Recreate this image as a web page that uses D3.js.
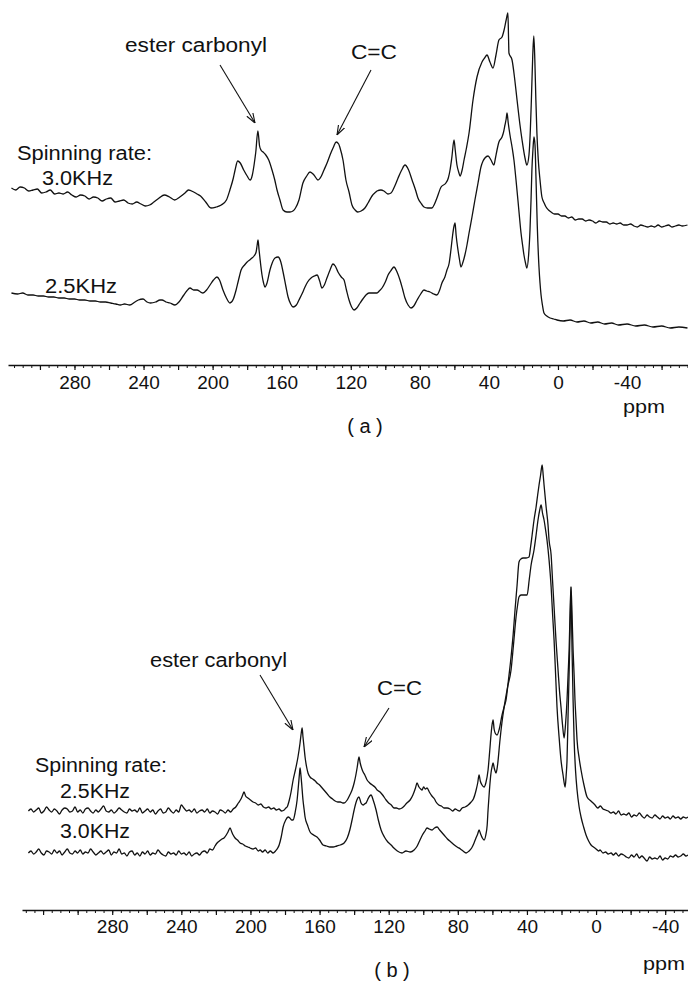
<!DOCTYPE html>
<html>
<head>
<meta charset="utf-8">
<script src="https://cdn.jsdelivr.net/npm/d3@7/dist/d3.min.js"></script>
<style>
  body { margin: 0; background: #fff; }
  svg text { font-family: "Liberation Sans", Arial, sans-serif; fill: #111; }
</style>
</head>
<body>
<div id="chart"></div>
<script>
// labels on the chemical shift axis (ppm)
const tickLabels = [280, 240, 200, 160, 120, 80, 40, 0, -40];

// (a) spinning rate 3.0KHz, [ppm, intensity]
const specA30 = [
  [316.5,42],[314,40],[311.5,43],[309,42],[306.5,39],[304,40],[301.5,41],[299,37],[296.5,38],[294,40],
  [291.5,36],[289,37],[286.5,36],[284,38],[281.5,35],[279,33],[276.5,35],[274,34],[271.5,31],[269,33],
  [266.5,32],[264,29],[261.5,31],[259,32],[256.5,28],[254,29],[251.5,30],[249,27],[246.5,26],[244,28],
  [241.5,26],[239,24],[236.5,25],[234,28],[231,32],[228,35],[225,33],[222,30],[219,33],[216,37],
  [214,40],[211,38],[209,36],[207,34],[204,28],[201,22],[198,23],[195,25],[192,30],[190,40],
  [188,52],[187,60],[185.5,69],[184,67],[182,60],[180,54],[178.3,50],[177,55],[176,65],[175,78],
  [173.8,99],[172.8,84],[172,80],[170.8,78],[169.2,75],[167.5,70],[165.6,60],[164,50],[162.7,40],[161,30],
  [159.2,20],[157,18],[155.2,18],[153.5,19],[152,22],[150,30],[147.7,47],[145.5,54],[143.6,58],[141.3,55],
  [139,50],[137,54],[135.5,60],[133.5,68],[132,75],[130,83],[128.5,88],[127,86],[126.2,82],[124.5,70],
  [122.8,50],[121,38],[119.3,25],[117.5,20],[116,18],[114,19],[111.8,22],[110,27],[107.7,34],[105.5,38],
  [104.8,39],[102.5,40],[100.8,39],[98.5,36],[96.7,37],[94.5,44],[92.6,52],[90.5,60],[88.6,65],[86.5,60],
  [84.5,50],[82.5,40],[81.1,32],[79,26],[77.6,23],[75.5,22],[73,22],[71.5,26],[70.1,32],[67.7,43],
  [64.9,47],[63.5,52],[62.5,60],[61.5,72],[60.2,90],[59.5,80],[58.5,65],[57.5,58],[56.7,54],[55.5,60],
  [54.4,70],[53,82],[51.5,97],[49.2,130],[46.9,153],[44,168],[42.5,172],[41.1,175],[39.4,168],[37.6,162],
  [35.9,175],[34.2,190],[32.4,193],[31.2,200],[30,210],[29,217],[28.6,190],[28.4,177],[26.6,170],[25,150],
  [23.7,130],[22,105],[20.8,90],[19.1,72],[18,65],[16.8,75],[16,100],[15.4,130],[14.6,175],[14,194],
  [13.4,170],[12.8,130],[12.2,97],[11.4,70],[10.4,50],[9.3,33],[8,27],[6.9,23],[5.5,20],[4,18],
  [2,16],[0,16],[-2,14],[-4,14],[-6,12],[-8,13],[-10,10],[-12,11],[-14,11],[-16,9],
  [-18,10],[-20,9],[-22,7],[-24,9],[-26,8],[-28,8],[-30,6],[-32,7],[-34,6],[-36,7],
  [-38,5],[-40,5],[-42,6],[-44,4],[-46,3],[-48,5],[-50,4],[-52,3],[-54,4],[-56,3],
  [-58,5],[-60,3],[-62,4],[-64,5],[-66,3],[-68,4],[-70,5],[-72,4],[-75,5]
];

// (a) spinning rate 2.5KHz
const specA25 = [
  [316.5,42],[313,41],[310,42],[307,40],[304,40],[301,39],[298,39],[295,38],[292,38],[289,37],
  [286,37],[283,36],[280,36],[277,35],[274,35],[271,34],[268,34],[265,33],[262,33],[259,32],
  [256,31],[253.5,30],[251,31],[248,30],[245,33],[243,35],[240.3,36],[238,33],[236,32],[233,33],
  [230.5,35],[229.3,35],[227,33],[224.7,32],[221.8,30],[219.5,33],[217.1,39],[215,44],[213.1,47],[211,45],
  [209,45],[207,43],[205.6,42],[203.5,45],[201.5,50],[199.5,55],[197.5,58],[196,55],[194,45],[192,37],
  [190,32],[188,36],[186.4,45],[185,55],[183.5,65],[181.5,70],[180,73],[178.5,75],[177.2,77],[176,79],
  [174.8,83],[174.2,90],[173.7,95],[173.1,85],[172.6,77],[171.4,60],[170.5,52],[169.7,48],[168.5,52],[166.8,65],
  [165.5,72],[163.9,77],[162.1,78],[160.5,73],[159.2,63],[157.5,48],[156.3,38],[154.8,31],[153.4,28],[151.5,30],
  [150,35],[148,42],[146.5,48],[145,53],[143,57],[141,59],[139.5,60],[138,54],[136.7,47],[135.3,50],
  [133.8,57],[132,65],[130.3,71],[129,69],[127.4,63],[125.5,58],[123.9,55],[122.5,45],[121,35],[119.5,28],
  [118.1,25],[116.5,27],[114.6,32],[113,36],[111.2,40],[109.5,42],[107.7,42],[106,42],[104.8,42],[103.5,44],
  [101.9,47],[100,53],[98.4,60],[96.5,65],[95,68],[93.2,63],[91.5,55],[90,46],[88.6,37],[86.8,30],
  [85.1,27],[83.5,29],[81.6,35],[79.5,41],[77.6,45],[76,44],[74.1,43],[72,41],[70.1,40],[68.5,45],
  [67.2,52],[65.5,58],[64.3,65],[63,72],[62,85],[61,100],[60.3,108],[59.6,112],[59,100],[57.9,85],
  [57,75],[56.2,68],[55,73],[53.9,80],[52.7,90],[51.5,102],[49.8,118],[48.1,135],[46.3,152],[44.6,168],
  [43.4,174],[42.3,177],[40.5,179],[38.8,175],[37.1,170],[36.2,177],[35.3,185],[34.2,193],[32.4,198],[31.5,203],
  [30.7,210],[30,216],[29.5,222],[28.8,212],[27.8,200],[26.5,187],[25.5,175],[24.3,155],[23.2,135],[22.3,118],
  [21.4,102],[20.5,90],[19.7,80],[18.8,72],[18,67],[17,80],[16.2,105],[15.6,135],[15.1,165],[14.5,185],
  [13.9,198],[13.3,190],[12.7,155],[12,110],[11,68],[10.4,52],[9.8,40],[9,30],[8.1,22],[6.5,19],
  [4.6,17],[2.5,16],[0.6,15],[-3,14],[-7,15],[-11,13],[-15,14],[-19,12],[-23,13],[-27,11],
  [-31,12],[-35,10],[-40,11],[-45,9],[-50,10],[-55,8],[-60,9],[-65,7],[-70,8],[-75,7]
];

// (b) spinning rate 2.5KHz
const specB25 = [
  [328.5,14],[327,16],[325.5,13],[324,15],[322.5,17],[321,12],[319.5,14],[318,18],[316.5,15],[315,13],
  [313.5,16],[312,14],[310.5,11],[309,15],[307.5,17],[306,16],[304.5,13],[303,14],[301.5,18],[300,13],
  [298.5,15],[297,12],[295.5,16],[294,17],[292.5,14],[291,12],[289.5,15],[288,13],[286.5,16],[285,19],
  [283.5,14],[282,13],[280.5,15],[279,12],[277.5,14],[276,17],[274.5,15],[273,13],[271.5,12],[270,16],
  [268.5,14],[267,15],[265.5,13],[264,17],[262.5,12],[261,14],[259.5,16],[258,13],[256.5,15],[255,11],
  [253.5,14],[252,16],[250.5,12],[249,13],[247.5,17],[246,14],[244.5,12],[243,15],[241.5,13],[240,20],
  [238.5,17],[237,14],[235.5,15],[234,13],[232.5,16],[231,12],[229.5,14],[228,15],[226.5,13],[225,16],
  [223.5,12],[222,14],[220.5,13],[219,11],[217.5,15],[216,14],[214.5,12],[213,15],[211.5,13],[210,16],
  [208.5,18],[207,22],[205.5,26],[204.5,30],[203.7,33],[202.8,29],[201.5,27],[200,25],[198.5,23],[197,22],
  [195.5,20],[194,21],[192.5,18],[191,17],[189.5,18],[188,16],[186.5,17],[185,15],[183.5,16],[182,14],
  [180.5,15],[179.5,17],[178.8,18],[177.5,25],[176.5,33],[175.3,45],[174,55],[172.5,68],[171.3,82],[170.6,92],
  [170.1,97],[169.6,88],[169,78],[168.4,68],[167.5,58],[166.7,52],[165.5,48],[164,46],[162.5,44],[161.5,42],
  [160,40],[158.5,37],[157,34],[155.5,31],[154,28],[152.5,26],[151,24],[149.5,23],[148,23],[146.5,22],
  [145.8,22],[144,25],[142.5,30],[141.2,35],[140,42],[139,50],[138.2,58],[137.6,65],[137.2,68],[136.5,62],
  [135.5,56],[134.8,53],[133.8,50],[132.5,45],[131,42],[129.5,40],[128,38],[126.7,35],[125,33],[123.5,30],
  [121.5,25],[120,22],[118.5,20],[116.9,17],[115.5,17],[114,16],[112.3,17],[111,19],[109.5,22],[107.6,25],
  [106,30],[104.5,37],[103.6,42],[102.5,38],[101.5,36],[100.7,35],[99.8,38],[98.8,36],[97.8,37],[96.5,33],
  [95,29],[93.5,26],[92.6,23],[91,20],[89.5,19],[88,17],[86.2,17],[84.5,16],[83,14],[81.5,16],
  [80.4,15],[79,14],[77.5,17],[75.8,18],[74,20],[72.3,23],[71,26],[69.4,35],[68.5,42],[67.7,50],
  [67,44],[66,40],[64.8,38],[63.8,42],[62.5,55],[61.5,75],[60.8,90],[60.2,100],[59.6,105],[59,96],
  [58.4,92],[57.3,90],[56,96],[54.4,110],[53.2,118],[52.1,125],[50.7,145],[49.2,168],[48,190],[46.9,215],
  [45.7,240],[44.6,263],[43.5,266],[42.2,267],[40.5,267],[38.8,268],[37.9,278],[37,290],[35.9,305],[34.7,318],
  [33.8,330],[33,340],[32.1,350],[31.2,360],[30.6,350],[30.1,340],[28.9,318],[27.8,300],[27.2,285],[26,270],
  [25.2,245],[24.3,218],[23.2,185],[22,155],[21.2,135],[20.3,118],[19.4,100],[18.5,87],[17.7,100],[16.8,125],
  [16.2,150],[15.6,175],[15,215],[14.5,238],[13.9,210],[13.3,175],[12.7,150],[12.2,125],[11.6,105],[11,85],
  [9.8,67],[8.7,55],[7,40],[5.2,28],[3,24],[0.6,20],[-1,17],[-2.5,19],[-4,16],[-5.5,15],
  [-7,14],[-8.7,12],[-10,13],[-11.5,11],[-13,14],[-14.5,10],[-16,11],[-17.5,10],[-19,12],[-20.5,8],
  [-22,10],[-23.5,9],[-25,12],[-26.5,9],[-28,7],[-29.5,10],[-31,8],[-32.5,7],[-34,10],[-35.5,8],
  [-37,6],[-38.5,9],[-40,7],[-41.5,8],[-43,6],[-44.5,9],[-46,7],[-47.5,8],[-49,6],[-50.5,8],
  [-52,7],[-53.2,8]
];

// (b) spinning rate 3.0KHz
const specB30 = [
  [328.5,12],[327,14],[325.5,11],[324,13],[322.5,16],[321,12],[319.5,10],[318,14],[316.5,13],[315,11],
  [313.5,15],[312,12],[310.5,14],[309,10],[307.5,13],[306,16],[304.5,12],[303,11],[301.5,14],[300,12],
  [298.5,15],[297,11],[295.5,13],[294,12],[292.5,16],[291,13],[289.5,10],[288,12],[286.5,14],[285,11],
  [283.5,13],[282,15],[280.5,10],[279,13],[277.5,12],[276,16],[274.5,11],[273,12],[271.5,9],[270,13],
  [268.5,14],[267,10],[265.5,12],[264,9],[262.5,13],[261,11],[259.5,14],[258,10],[256.5,12],[255,11],
  [253.5,15],[252,12],[250.5,10],[249,9],[247.5,13],[246,11],[244.5,12],[243,10],[241.5,14],[240,11],
  [238.5,12],[237,10],[235.5,13],[234,9],[232.5,11],[231,12],[229.5,10],[228,13],[226.5,14],[225,12],
  [223.5,16],[222,15],[220.5,19],[219.3,22],[218,24],[216.5,26],[215.3,27],[214,30],[213,33],[211.8,37],
  [210.8,33],[210,30],[208.9,27],[207.5,25],[206,22],[204.5,21],[203,19],[201.5,18],[200.2,17],[198.5,16],
  [197,17],[195.5,14],[194.4,15],[193,13],[191.5,15],[190,12],[188.5,14],[186.9,12],[185.5,14],[184.2,17],
  [183.4,20],[182.2,28],[181.1,38],[179.6,45],[178.2,48],[177.2,47],[176.2,45],[175.3,45],[174.2,52],[173,65],
  [172.2,80],[171.6,92],[171.3,97],[170.8,90],[170.3,80],[169.6,65],[168.9,55],[168.4,48],[167,40],[165.5,33],
  [163.5,30],[161.5,28],[160,25],[158,20],[156,19],[154,18],[152.2,18],[150,19],[148,20],[145.8,22],
  [144,27],[142.5,35],[141.2,45],[140,55],[139,62],[137.2,68],[136,62],[134.8,60],[134,61],[133.1,62],
  [132,66],[131,69],[130.2,70],[129,65],[127.3,55],[126,45],[124.4,35],[122.5,28],[120.5,23],[118.6,20],
  [117,17],[115,14],[112.3,12],[110,14],[107.5,13],[105.3,15],[103.5,19],[101.9,25],[100.5,30],[99,34],
  [97.8,37],[96.5,36],[94.9,35],[93.5,37],[92,38],[90.5,35],[89,32],[88,30],[86,26],[84,23],
  [82,20],[80.4,18],[78.5,16],[77,14],[75.2,12],[73.5,14],[72,17],[70.6,22],[69.5,27],[68.5,31],
  [67.7,35],[66.8,31],[65.8,27],[64.8,25],[63.8,30],[63,40],[62.5,55],[61.7,75],[60.8,92],[60.2,98],
  [59.6,102],[58.8,96],[57.9,92],[57,100],[55.6,125],[54.5,142],[53.2,158],[51.2,178],[49.2,195],[47.8,220],
  [46.3,248],[45.4,260],[44.6,268],[43.4,270],[42.2,270],[39.9,270],[38.7,285],[37.6,300],[35.9,315],[34.7,330],
  [33.6,345],[32.6,355],[31.8,360],[31,352],[30.1,345],[29.2,335],[28.4,325],[27.2,305],[26,278],[25.2,252],
  [24.3,225],[23.4,190],[22.6,158],[21.4,128],[20.3,105],[19.1,90],[17.9,78],[17.3,90],[16.8,105],[16.2,150],
  [15.6,192],[15,240],[14.5,278],[13.9,215],[13.3,165],[12.7,125],[11.9,95],[11,75],[9.8,58],[8.7,48],
  [7.2,38],[5.8,30],[4.3,24],[2.9,20],[1.5,18],[0,16],[-1.5,14],[-2.3,15],[-4,12],[-5.5,13],
  [-7,11],[-8.7,12],[-10,10],[-11.5,12],[-13,9],[-14.5,11],[-16,10],[-17.5,8],[-19,7],[-20.5,10],
  [-22,8],[-23.5,11],[-25,7],[-26.5,9],[-27.8,7],[-29.5,4],[-31,8],[-32.5,6],[-34,7],[-35.5,6],
  [-37,9],[-38.5,5],[-40,7],[-41.5,6],[-43,9],[-44.5,8],[-46,10],[-47.5,8],[-49,9],[-50.5,11],
  [-52,9],[-53.2,10]
];

const W = 688, H = 983;

const svg = d3.select("#chart")
  .append("svg")
  .attr("width", W)
  .attr("height", H);

// thin open arrow head
svg.append("defs").append("marker")
  .attr("id", "arrow")
  .attr("viewBox", "0 0 10 8")
  .attr("refX", 10).attr("refY", 4)
  .attr("markerWidth", 10).attr("markerHeight", 8)
  .attr("markerUnits", "userSpaceOnUse")
  .attr("orient", "auto")
  .append("path")
  .attr("d", "M0,0.5 L10,4 L0,7.5")
  .attr("fill", "none")
  .attr("stroke", "#111")
  .attr("stroke-width", 1.1);

function drawPanel(p) {
  const g = svg.append("g");

  const x = d3.scaleLinear().domain(p.ppm).range([p.left, W]);
  const y = d3.scaleLinear().domain([0, p.yMax]).range([p.axisY, p.axisY - p.yMax]);

  // spectra, stacked with a vertical offset
  p.traces.forEach(t => {
    const line = d3.line()
      .x(d => x(d[0]))
      .y(d => y(d[1] + t.offset))
      .curve(d3.curveMonotoneX);
    g.append("path")
      .datum(t.data)
      .attr("d", line)
      .attr("fill", "none")
      .attr("stroke", "#111")
      .attr("stroke-width", 1.3)
      .attr("stroke-linejoin", "round");
  });

  // axis: minor ticks every 5 ppm, major every 20, labels every 40
  const lo = Math.ceil(p.ppm[1] / 5) * 5, hi = Math.floor(p.ppm[0] / 5) * 5;
  const minorTicks = d3.range(lo, hi + 1, 5);
  const majorTicks = minorTicks.filter(v => v % 20 === 0);

  const axMinor = g.append("g")
    .attr("transform", `translate(0,${p.axisY})`)
    .call(d3.axisBottom(x).tickValues(minorTicks).tickSize(3).tickSizeOuter(0).tickFormat(""));
  axMinor.select(".domain").attr("stroke", "#111").attr("stroke-width", 1.3);
  axMinor.selectAll(".tick line").attr("stroke", "#111").attr("stroke-width", 1);

  const axMajor = g.append("g")
    .attr("transform", `translate(0,${p.axisY})`)
    .call(d3.axisBottom(x).tickValues(majorTicks).tickSize(5).tickFormat(""));
  axMajor.select(".domain").remove();
  axMajor.selectAll(".tick line").attr("stroke", "#111").attr("stroke-width", 1.2);

  const axLabels = g.append("g")
    .attr("transform", `translate(0,${p.axisY})`)
    .call(d3.axisBottom(x).tickValues(tickLabels).tickSize(0).tickPadding(p.labelGap)
      .tickFormat(d => String(d)));
  axLabels.select(".domain").remove();
  axLabels.selectAll("text")
    .attr("font-size", 19)
    .attr("font-family", "'Liberation Sans', Arial, sans-serif")
    .attr("fill", "#111");

  // texts
  p.texts.forEach(t => {
    const el = g.append("text")
      .attr("x", t.x).attr("y", t.y)
      .attr("font-size", t.size || 20)
      .attr("text-anchor", t.anchor || "start")
      .text(t.s);
    if (t.w) el.attr("textLength", t.w).attr("lengthAdjust", "spacingAndGlyphs");
  });

  // arrows pointing at peaks
  p.arrows.forEach(a => {
    g.append("line")
      .attr("x1", a[0]).attr("y1", a[1])
      .attr("x2", a[2]).attr("y2", a[3])
      .attr("stroke", "#111")
      .attr("stroke-width", 1.1)
      .attr("marker-end", "url(#arrow)");
  });
}

drawPanel({
  ppm: [318.5, -75.3], left: 8, axisY: 365, yMax: 360, labelGap: 11,
  traces: [
    {data: specA30, offset: 135},
    {data: specA25, offset: 30}
  ],
  texts: [
    {s: "ester carbonyl", x: 125, y: 52, w: 142},
    {s: "C=C", x: 351, y: 59, w: 46},
    {s: "Spinning rate:", x: 17, y: 160, w: 135},
    {s: "3.0KHz", x: 42, y: 185, w: 71},
    {s: "2.5KHz", x: 45, y: 293, w: 72},
    {s: "ppm", x: 623, y: 413, w: 42, size: 19},
    {s: "( a )", x: 365, y: 433, anchor: "middle"}
  ],
  arrows: [
    [220, 65, 255, 123],
    [371, 70, 337, 135]
  ]
});

drawPanel({
  ppm: [332.2, -53.2], left: 22, axisY: 910, yMax: 460, labelGap: 10,
  traces: [
    {data: specB25, offset: 85},
    {data: specB30, offset: 45}
  ],
  texts: [
    {s: "ester carbonyl", x: 150, y: 667, w: 137},
    {s: "C=C", x: 377, y: 695, w: 45},
    {s: "Spinning rate:", x: 35, y: 772, w: 132},
    {s: "2.5KHz", x: 60, y: 798, w: 70},
    {s: "3.0KHz", x: 60, y: 838, w: 70},
    {s: "ppm", x: 643, y: 970, w: 42, size: 19},
    {s: "( b )", x: 392, y: 977, anchor: "middle"}
  ],
  arrows: [
    [260, 675, 293, 730],
    [389, 708, 364, 747]
  ]
});
</script>
</body>
</html>
